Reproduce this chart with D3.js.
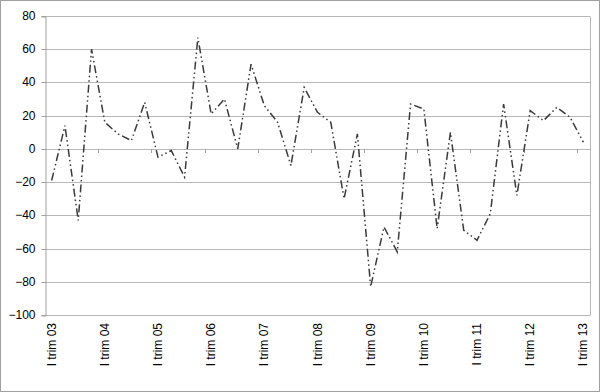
<!DOCTYPE html>
<html><head><meta charset="utf-8">
<script src="https://cdn.jsdelivr.net/npm/d3@7"></script>
<style>body{margin:0;background:#fff}svg{display:block}text{font-family:"Liberation Sans",Arial,sans-serif;fill:#000}</style>
</head><body>
<script>
const years = ["03","04","05","06","07","08","09","10","11","12","13"];
const categories = [];
years.forEach((y,i)=>{ ["I","II","III","IV"].forEach((q,j)=>{ if(i<years.length-1||j===0) categories.push(q+" trim "+y); }); });
const values = [-19,14,-43,60,16,9,5,28,-5,-1,-17,67,21,30,0,51,26,16,-10,37,22,16,-30,9,-83,-47,-62,27,24,-48,10,-49,-55,-39,27,-28,23,17,25,19,4];
const yTicks = [-100,-80,-60,-40,-20,0,20,40,60,80];

const W=600,H=392, L=45, R=590, T=16, B=315;
const svg=d3.select("body").append("svg").attr("width",W).attr("height",H);
svg.append("rect").attr("x",0.5).attr("y",0.5).attr("width",W-1).attr("height",H-1).attr("fill","#fff").attr("stroke","#a0a0a0");

const x=d3.scaleBand().domain(categories).range([L,R]).padding(0);
const y=d3.scaleLinear().domain([-100,80]).range([B,T]);

// gridlines
svg.append("g").selectAll("line").data(yTicks).join("line")
  .attr("x1",L).attr("x2",R).attr("y1",d=>Math.round(y(d))+0.5).attr("y2",d=>Math.round(y(d))+0.5)
  .attr("stroke","#b8b8b8").attr("stroke-width",1);
// plot border right
svg.append("line").attr("x1",R+0.5).attr("x2",R+0.5).attr("y1",Math.round(y(80))+0.5).attr("y2",Math.round(y(-100))+0.5).attr("stroke","#b8b8b8");

// y axis
const ya=svg.append("g").attr("transform",`translate(${L+0.5},0.5)`)
  .call(d3.axisLeft(y).tickValues(yTicks).tickSize(4).tickPadding(6).tickFormat(d3.format("d")));
ya.select(".domain").attr("stroke","#a0a0a0");
ya.selectAll(".tick line").attr("stroke","#a0a0a0");
ya.selectAll(".tick text").attr("font-size","12px").attr("font-family","Liberation Sans, Arial, sans-serif").attr("fill","#000");
ya.selectAll(".tick").attr("transform",d=>`translate(0,${Math.round(y(d))})`);

// category ticks on zero line
const tickIdx = d3.range(4,categories.length,4);
svg.append("g").selectAll("line").data(tickIdx).join("line")
  .attr("x1",i=>Math.round(x(categories[i]))+0.5).attr("x2",i=>Math.round(x(categories[i]))+0.5)
  .attr("y1",Math.round(y(0))).attr("y2",Math.round(y(0))+4).attr("stroke","#a0a0a0");

// x labels
const labIdx = d3.range(0,categories.length,4);
svg.append("g").selectAll("text").data(labIdx).join("text")
  .attr("transform",i=>`translate(${x(categories[i])+x.bandwidth()/2+4},${B+8}) rotate(-90)`)
  .attr("text-anchor","end").attr("font-size","12px").text(i=>categories[i]);

// line
const line=d3.line().x((d,i)=>x(categories[i])+x.bandwidth()/2).y(d=>y(d));
svg.append("path").datum(values).attr("d",line).attr("fill","none")
  .attr("stroke","#3a3a3a").attr("stroke-width",1.5).attr("stroke-dasharray","8,3,1.5,3,1.5,3");
</script>
</body></html>
